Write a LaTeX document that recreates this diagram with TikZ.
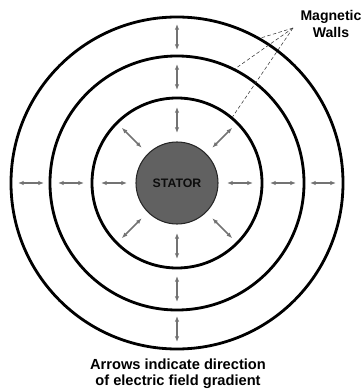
\documentclass[tikz,border=0pt]{standalone}
\usepackage{fontspec}
\setmainfont{Liberation Sans}
\usetikzlibrary{arrows.meta}

\begin{document}
\begin{tikzpicture}[x=0.03cm, y=0.03cm,
      wall/.style={circle, draw, line width=2.4pt, inner sep=0pt},
      fld/.style={{Latex[length=4.8pt,width=3.8pt]}-{Latex[length=4.8pt,width=3.8pt]},
        draw, black!55, line width=1.3pt},
      ldr/.style={draw, black!80, line width=0.45pt, densely dashed},
      lbl/.style={font=\fontsize{12}{15}\selectfont\bfseries, align=center}
    ]
    \useasboundingbox (-177,-208) rectangle (184,183);
    % === Magnetic walls ===
    \node[wall, minimum size=9.96cm] (outer) at (0,0) {};
    \node[wall, minimum size=7.62cm] (middle) at (0,0) {};
    \node[wall, minimum size=5.1cm] (inner) at (0,0) {};
    % === Stator ===
    \node[circle, draw=black!85, line width=0.9pt, fill=black!62, inner sep=0pt,
      minimum size=2.46cm, text=black!95,
    font=\fontsize{10.5}{12}\selectfont\bfseries] (stator) at (0,0) {STATOR};
    % === Field gradient arrows ===
    \foreach \a in {0,90,180,270}
    \foreach \r in {63,106,146}
    \draw[fld] ({\a}:{\r-13}) -- ({\a}:{\r+13});
    \foreach \a in {45,135,225,315}
    \draw[fld] ({\a}:50) -- ({\a}:78);
    % === Labels ===
    \node[lbl] (walls) at (154,159) {Magnetic\\Walls};
    \coordinate (mw) at (116,155);
    \draw[ldr] (mw) -- (outer.60);
    \draw[ldr] (mw) -- (middle.63);
    \draw[ldr] (mw) -- (inner.50);
    \node[lbl, font=\fontsize{12.5}{14}\selectfont\bfseries] (note) at (1,-191)
    {Arrows indicate direction\\of electric field gradient};
  \end{tikzpicture}
\end{document}
